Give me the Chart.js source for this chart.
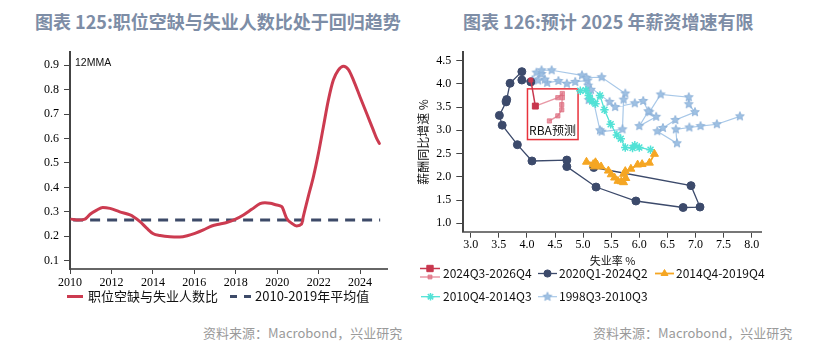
<!DOCTYPE html>
<html>
<head>
<meta charset="utf-8">
<script src="https://cdn.jsdelivr.net/npm/chart.js@4.4.1/dist/chart.umd.min.js"></script>
<style>
  body { margin:0; width:832px; height:349px; background:#fff; position:relative; overflow:hidden; font-family:"Noto Sans CJK SC", sans-serif; }
  .title { position:absolute; top:10px; font-size:18px; font-weight:bold; color:#7d8da6; line-height:22px; white-space:nowrap; }
  .src { position:absolute; top:324px; font-size:13px; color:#9a9a9a; line-height:18px; white-space:nowrap; }
  canvas { position:absolute; top:40px; }
</style>
</head>
<body>
<div class="title" style="left:35px">图表 125:职位空缺与失业人数比处于回归趋势</div>
<div class="title" style="left:463px">图表 126:预计 2025 年薪资增速有限</div>
<canvas id="vu" width="416" height="270" style="left:0"></canvas>
<canvas id="wage" width="416" height="270" style="left:416px"></canvas>
<div class="src" style="left:203px">资料来源：Macrobond，兴业研究</div>
<div class="src" style="left:593px">资料来源：Macrobond，兴业研究</div>
<script>
// ---- 图表125: 职位空缺/失业人数 (12MMA) ----
const vuYears = [2010.08, 2010.4, 2010.72, 2010.97, 2011.29, 2011.58, 2011.93, 2012.4, 2012.9, 2013.06,
  2013.38, 2013.7, 2014.02, 2014.35, 2014.83, 2015.3, 2015.7, 2016.03, 2016.44, 2016.84,
  2017.24, 2017.56, 2017.97, 2018.37, 2018.77, 2019.17, 2019.41, 2019.66, 2019.98, 2020.22,
  2020.46, 2020.7, 2020.94, 2021.18, 2021.26, 2021.5, 2021.75, 2021.99, 2022.23, 2022.47,
  2022.71, 2022.95, 2023.2, 2023.44, 2023.68, 2024.0, 2024.32, 2024.64, 2024.8, 2024.93];
const vuRatio = [0.270, 0.266, 0.270, 0.290, 0.307, 0.318, 0.314, 0.300, 0.287, 0.280,
  0.260, 0.233, 0.210, 0.203, 0.198, 0.197, 0.203, 0.212, 0.226, 0.242,
  0.250, 0.256, 0.269, 0.287, 0.310, 0.333, 0.337, 0.335, 0.328, 0.321,
  0.273, 0.253, 0.242, 0.250, 0.280, 0.362, 0.444, 0.539, 0.648, 0.757,
  0.839, 0.880, 0.896, 0.882, 0.839, 0.770, 0.702, 0.634, 0.600, 0.580];
const avgYears = [2010.15, 2024.97];
const avgRatio = [0.266, 0.266];
const yearTicks = [2010, 2012, 2014, 2016, 2018, 2020, 2022, 2024];
const ratioTicks = [0.1, 0.2, 0.3, 0.4, 0.5, 0.6, 0.7, 0.8, 0.9];

// ---- 图表126: 失业率 vs 薪酬同比增速 ----
const rbaUnemp = [4.07, 4.15];
const rbaWage = [4.08, 3.52];
const rbaFcUnemp = [4.15, 4.55, 4.63, 4.63, 4.62, 4.62, 4.55, 4.40];
const rbaFcWage = [3.52, 3.70, 3.79, 3.70, 3.55, 3.44, 3.31, 3.20];
const c20Unemp = [5.19, 6.92, 7.08, 6.78, 5.94, 5.23, 4.71, 4.71, 4.09, 3.83, 3.56, 3.51, 3.63, 3.64, 3.70, 3.91, 3.91, 4.07];
const c20Wage = [2.20, 1.81, 1.35, 1.34, 1.48, 1.78, 2.22, 2.36, 2.34, 2.69, 3.11, 3.32, 3.61, 3.66, 4.01, 4.26, 4.08, 4.04];
const c15Unemp = [6.27, 6.18, 6.05, 5.97, 5.85, 5.75, 5.72, 5.76, 5.68, 5.72, 5.62, 5.56, 5.50, 5.45, 5.32, 5.22, 5.06, 5.18, 5.22, 5.25, 5.20];
const c15Wage = [2.49, 2.30, 2.27, 2.26, 2.17, 2.12, 2.06, 1.97, 1.90, 1.88, 1.91, 1.98, 2.05, 2.13, 2.22, 2.29, 2.32, 2.27, 2.31, 2.26, 2.22];
const c11Unemp = [4.95, 5.05, 5.10, 5.12, 5.16, 5.22, 5.30, 5.38, 5.49, 5.60, 5.67, 5.75, 5.88, 5.92, 6.00, 6.20];
const c11Wage = [3.85, 3.86, 3.75, 3.68, 3.62, 3.57, 3.75, 3.44, 3.13, 2.90, 2.82, 2.63, 2.62, 2.68, 2.63, 2.58];
const c99Unemp = [7.79, 7.38, 7.09, 6.89, 6.65, 6.67, 6.32, 6.42, 6.64, 6.99, 6.88, 6.88, 6.38, 6.18, 6.30, 6.00,
  6.16, 6.07, 5.92, 5.57, 5.47, 5.09, 5.08, 4.86, 4.71, 4.56, 4.36, 4.32, 4.20, 4.10, 4.26, 4.17,
  4.26, 4.44, 4.98, 5.06, 5.33, 5.75, 5.72, 5.70, 5.33, 5.30, 5.14, 5.10];
const c99Wage = [3.30, 3.13, 3.09, 3.06, 3.02, 2.72, 2.98, 3.05, 3.22, 3.39, 3.56, 3.71, 3.77, 3.39, 3.29, 3.09,
  3.41, 3.63, 3.58, 3.50, 3.61, 3.96, 4.07, 4.04, 4.00, 4.06, 4.02, 4.09, 4.07, 4.08, 4.21, 4.24,
  4.29, 4.29, 4.18, 4.13, 4.14, 3.79, 3.66, 3.02, 2.97, 3.00, 3.87, 3.65];
const unempTicks = [3.0, 3.5, 4.0, 4.5, 5.0, 5.5, 6.0, 6.5, 7.0, 7.5, 8.0];
const wageTicks = [1.0, 1.5, 2.0, 2.5, 3.0, 3.5, 4.0, 4.5];
const rbaBox = { x0: 4.01, x1: 4.91, y0: 2.80, y1: 3.89, label: 'RBA预测', lx: 4.455, ly: 3.0 };

const cjk = '"Noto Sans CJK SC", sans-serif';
const serif = { family: '"Liberation Serif", "Times New Roman", serif', size: 12 };

const zip = (xs, ys) => xs.map((x, i) => ({ x, y: ys[i] }));
const fixTicks = list => scale => { scale.ticks = list.map(value => ({ value })); };

function axis(min, max, list, fmt, tickLen, pad, borderColor) {
  return {
    type: 'linear', min, max,
    afterBuildTicks: fixTicks(list),
    grid: { drawOnChartArea: false, drawTicks: true, tickLength: tickLen, color: '#444', lineWidth: 1 },
    border: { display: true, color: borderColor, width: 2 },
    ticks: { font: serif, color: '#000', padding: pad, maxRotation: 0, autoSkip: false, callback: fmt }
  };
}

// 5-point star marker
function makeStar(r, fill, stroke) {
  const c = document.createElement('canvas');
  c.width = c.height = Math.ceil(r * 2 + 2);
  const g = c.getContext('2d');
  const cx = c.width / 2, cy = c.height / 2;
  g.beginPath();
  for (let i = 0; i < 10; i++) {
    const rr = i % 2 ? r * 0.45 : r;
    const a = -Math.PI / 2 + i * Math.PI / 5;
    g.lineTo(cx + rr * Math.cos(a), cy + rr * Math.sin(a));
  }
  g.closePath();
  g.fillStyle = fill; g.fill();
  g.strokeStyle = stroke; g.lineWidth = 0.8; g.stroke();
  return c;
}

function drawSample(ctx, ds, x, y, w, r) {
  ctx.save();
  ctx.strokeStyle = ds.borderColor;
  ctx.lineWidth = ds.borderWidth;
  ctx.setLineDash(ds.legendDash || ds.borderDash || []);
  ctx.beginPath(); ctx.moveTo(x, y); ctx.lineTo(x + w, y); ctx.stroke();
  ctx.setLineDash([]);
  if (r) {
    ctx.fillStyle = ds.pointBackgroundColor;
    ctx.strokeStyle = ds.pointBorderColor;
    ctx.lineWidth = ds.pointBorderWidth;
    Chart.helpers.drawPoint(ctx, { pointStyle: ds.pointStyle, radius: r, borderWidth: ds.pointBorderWidth, rotation: 0 }, x + w / 2, y);
  }
  ctx.restore();
}

const lineLegend = {
  id: 'lineLegend',
  afterDraw(chart, args, opts) {
    const ctx = chart.ctx;
    ctx.save();
    opts.items.forEach(it => {
      const ds = chart.data.datasets[it.ds];
      drawSample(ctx, ds, it.x, it.y, it.w, it.r);
      if (it.sub != null) drawSample(ctx, chart.data.datasets[it.sub], it.x, it.y + it.subDy, it.w, it.subR);
      ctx.font = opts.font;
      ctx.fillStyle = '#111';
      ctx.textBaseline = 'middle';
      ctx.textAlign = 'left';
      ctx.fillText(ds.label, it.tx, it.ty != null ? it.ty : it.y);
    });
    ctx.restore();
  }
};

const mmaNote = {
  id: 'mmaNote',
  afterDraw(chart) {
    const ctx = chart.ctx, a = chart.chartArea;
    ctx.save();
    ctx.font = '10.5px "Liberation Sans", Arial, sans-serif';
    ctx.fillStyle = '#111';
    ctx.textBaseline = 'middle';
    ctx.fillText('12MMA', a.left + 5, a.top + 11);
    ctx.restore();
  }
};

const boxPlugin = {
  id: 'rbaBox',
  beforeDatasetsDraw(chart) {
    const { x, y } = chart.scales, ctx = chart.ctx;
    const l = x.getPixelForValue(rbaBox.x0), r = x.getPixelForValue(rbaBox.x1);
    const t = y.getPixelForValue(rbaBox.y1), b = y.getPixelForValue(rbaBox.y0);
    ctx.save();
    ctx.strokeStyle = '#e8323c'; ctx.lineWidth = 1.5;
    ctx.strokeRect(l, t, r - l, b - t);
    ctx.font = '12px ' + cjk; ctx.fillStyle = '#111';
    ctx.textAlign = 'center'; ctx.textBaseline = 'middle';
    ctx.fillText(rbaBox.label, x.getPixelForValue(rbaBox.lx), y.getPixelForValue(rbaBox.ly));
    ctx.restore();
  }
};

// ---------- 图表125 ----------
new Chart(document.getElementById('vu'), {
  type: 'line',
  data: {
    datasets: [
      { label: '职位空缺与失业人数比', data: zip(vuYears, vuRatio), borderColor: '#cc3b50', borderWidth: 3,
        pointRadius: 0, cubicInterpolationMode: 'monotone', borderCapStyle: 'round', borderJoinStyle: 'round' },
      { label: '2010-2019年平均值', data: zip(avgYears, avgRatio), borderColor: '#3d4a68', borderWidth: 3,
        borderDash: [10, 7], legendDash: [7, 7], pointRadius: 0 }
    ]
  },
  options: {
    responsive: false, animation: false, devicePixelRatio: 1,
    layout: { padding: { top: 12, right: 29, left: 0, bottom: 0 } },
    plugins: {
      legend: { display: false }, tooltip: { enabled: false },
      lineLegend: {
        font: '13px ' + cjk,
        items: [
          { ds: 0, x: 67, y: 256.5, w: 16, tx: 88 },
          { ds: 1, x: 230, y: 256.5, w: 21, tx: 255 }
        ]
      }
    },
    scales: {
      x: Object.assign(axis(2010, 2025.3, yearTicks, v => String(v), 5, 2, '#666'), { afterFit: s => { s.height = 41; } }),
      y: Object.assign(axis(0.066, 0.953, ratioTicks, v => v.toFixed(1), 6, 5, '#444'), { afterFit: s => { s.width = 70; } })
    }
  },
  plugins: [lineLegend, mmaNote]
});

// ---------- 图表126 ----------
const starImg = makeStar(4.6, '#9fc1e3', '#86acd6');
const scatterSet = (label, xs, ys, color, style, r, extra) => Object.assign({
  label, data: zip(xs, ys), showLine: true, borderColor: color, borderWidth: 1.3,
  pointStyle: style, pointRadius: r, pointBackgroundColor: color, pointBorderColor: color, pointBorderWidth: 1
}, extra);

new Chart(document.getElementById('wage'), {
  type: 'scatter',
  data: {
    datasets: [
      scatterSet('2024Q3-2026Q4', rbaUnemp, rbaWage, '#c8374e', 'rect', [2.8, 4.2], { order: 0, borderWidth: 1.5 }),
      scatterSet('2020Q1-2024Q2', c20Unemp, c20Wage, '#3c4a6b', 'circle', 4, { order: 2 }),
      scatterSet('2014Q4-2019Q4', c15Unemp, c15Wage, '#f5a623', 'triangle', 4.6, { order: 1, borderWidth: 1.8 }),
      scatterSet('2010Q4-2014Q3', c11Unemp, c11Wage, '#52e2d6', 'star', 4.2, { order: 3, pointBorderWidth: 1.5 }),
      scatterSet('1998Q3-2010Q3', c99Unemp, c99Wage, '#a8c8e8', starImg, 4.6, { order: 4, borderWidth: 1.2 }),
      scatterSet('RBA预测', rbaFcUnemp, rbaFcWage, 'rgba(222,110,128,0.7)', 'rect', [0, 3, 3, 3, 3, 3, 3, 3], { order: 0, borderWidth: 1.5 })
    ]
  },
  options: {
    responsive: false, animation: false, devicePixelRatio: 1,
    layout: { padding: { top: 11.7, right: 70.3, left: 0, bottom: 42.4 } },
    plugins: {
      legend: { display: false }, tooltip: { enabled: false },
      lineLegend: {
        font: '12px ' + cjk,
        items: [
          { ds: 0, x: 4, y: 228.5, w: 20, r: 4.5, sub: 5, subDy: 8.5, subR: 2.8, tx: 27, ty: 233.5 },
          { ds: 1, x: 122, y: 233.5, w: 19, r: 3.6, tx: 143 },
          { ds: 2, x: 239, y: 233.5, w: 19, r: 4, tx: 260 },
          { ds: 3, x: 5, y: 256.7, w: 19, r: 3.8, tx: 27 },
          { ds: 4, x: 122, y: 256.7, w: 19, r: 4.6, tx: 143 }
        ]
      }
    },
    scales: {
      x: Object.assign(axis(2.868, 8.178, unempTicks, v => v.toFixed(1), 6, 0, '#777'), {
        afterFit: s => { s.height = 35.9; },
        title: { display: true, text: '失业率 %', font: { family: cjk, size: 11 }, color: '#111', padding: 0 }
      }),
      y: Object.assign(axis(0.82, 4.678, wageTicks, v => v.toFixed(1), 7, 5, '#444'), {
        afterFit: s => { s.width = 47.3; },
        title: { display: true, text: '薪酬同比增速 %', font: { family: cjk, size: 12 }, color: '#111', padding: 0 }
      })
    }
  },
  plugins: [lineLegend, boxPlugin]
});
</script>
</body>
</html>
